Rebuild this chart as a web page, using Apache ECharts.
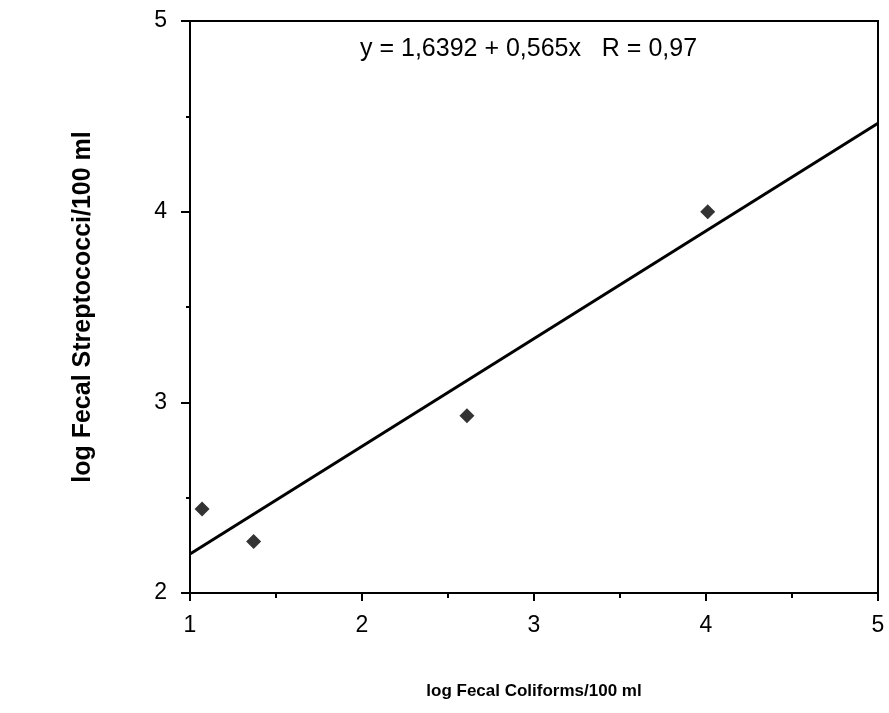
<!DOCTYPE html>
<html>
<head>
<meta charset="utf-8">
<script src="https://cdn.jsdelivr.net/npm/echarts@6/dist/echarts.min.js"></script>
<style>
html,body{margin:0;padding:0;background:#fff;}
#chart{width:889px;height:713px;}
</style>
</head>
<body>
<div id="chart"></div>
<script>
// Observed points (log Fecal Coliforms, log Fecal Streptococci)
const fcValues = [1.07, 1.37, 2.61, 4.01];
const fsValues = [2.44, 2.27, 2.93, 4.00];
// Regression: y = intercept + slope * x
const intercept = 1.6392;
const slope = 0.565;
const fitRangeX = [1, 5];
const xTicks = [1, 2, 3, 4, 5];
const yTicks = [2, 3, 4, 5];
const equationText = 'y = 1,6392 + 0,565x   R = 0,97';
const xAxisTitle = 'log Fecal Coliforms/100 ml';
const yAxisTitle = 'log Fecal Streptococci/100 ml';

const points = fcValues.map((x, i) => [x, fsValues[i]]);
const fitLine = fitRangeX.map(x => [x, intercept + slope * x]);

const chart = echarts.init(document.getElementById('chart'), null, {renderer: 'canvas'});
const FONT = 'Liberation Sans, Arial, sans-serif';
chart.setOption({
  animation: false,
  backgroundColor: '#fff',
  grid: {left: 190, right: 11, top: 21, bottom: 120, show: true,
         borderColor: '#000', borderWidth: 2, backgroundColor: 'transparent'},
  xAxis: {
    type: 'value', min: xTicks[0], max: xTicks[xTicks.length - 1], interval: 1,
    name: xAxisTitle, nameLocation: 'middle', nameGap: 90,
    nameTextStyle: {fontFamily: FONT, fontSize: 17, fontWeight: 'bold', color: '#000'},
    axisLine: {show: true, lineStyle: {color: '#000', width: 2}},
    axisTick: {show: true, length: 8, lineStyle: {color: '#000', width: 2}},
    minorTick: {show: true, splitNumber: 2, length: 5, lineStyle: {color: '#000', width: 2}},
    splitLine: {show: false},
    axisLabel: {margin: 21, fontFamily: FONT, fontSize: 23, color: '#000',
                formatter: v => String(v)}
  },
  yAxis: {
    type: 'value', min: yTicks[0], max: yTicks[yTicks.length - 1], interval: 1,
    name: yAxisTitle, nameLocation: 'middle', nameGap: 94,
    nameTextStyle: {fontFamily: FONT, fontSize: 25, fontWeight: 'bold', color: '#000'},
    axisLine: {show: true, lineStyle: {color: '#000', width: 2}},
    axisTick: {show: true, length: 9, lineStyle: {color: '#000', width: 2}},
    minorTick: {show: true, splitNumber: 2, length: 4, lineStyle: {color: '#000', width: 2}},
    splitLine: {show: false},
    axisLabel: {margin: 23, fontFamily: FONT, fontSize: 23, color: '#000',
                formatter: v => String(v)}
  },
  graphic: [{
    type: 'text', left: 360, top: 37,
    style: {text: equationText, fontFamily: FONT, fontSize: 25, fill: '#000'}
  }],
  series: [
    {type: 'line', data: fitLine, showSymbol: false, symbol: 'none',
     lineStyle: {color: '#000', width: 3}, z: 3},
    {type: 'scatter', data: points, symbol: 'diamond', symbolSize: [15, 15],
     itemStyle: {color: '#000'}, z: 4}
  ]
});
</script>
</body>
</html>
